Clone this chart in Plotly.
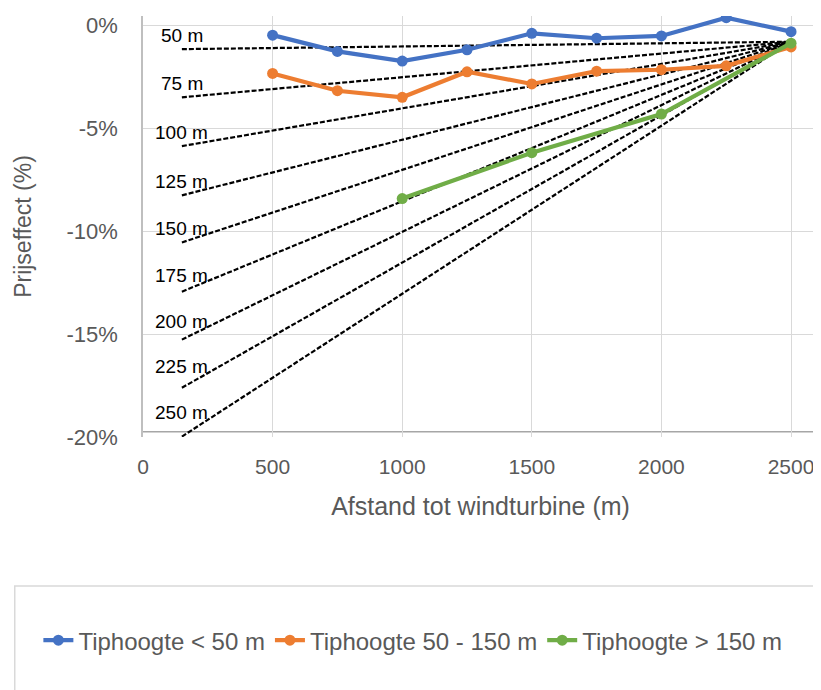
import plotly.graph_objects as go

# ---- data ----
distance = [500, 750, 1000, 1250, 1500, 1750, 2000, 2250, 2500]
tip_lt50 = [-0.48, -1.27, -1.74, -1.19, -0.39, -0.63, -0.52, 0.37, -0.31]
tip_50_150 = [-2.34, -3.18, -3.50, -2.26, -2.85, -2.23, -2.16, -1.97, -1.05]
distance_gt150 = [1000, 1500, 2000, 2500]
tip_gt150 = [-8.42, -6.19, -4.31, -0.87]

ref_labels = ["50 m", "75 m", "100 m", "125 m", "150 m", "175 m", "200 m", "225 m", "250 m"]
ref_start_x = 150
ref_end_x = 2500
ref_start_y = [-1.16, -3.50, -5.87, -8.26, -10.55, -12.94, -15.27, -17.61, -19.98]
ref_end_y = -0.8

x_ticks = [0, 500, 1000, 1500, 2000, 2500]
y_ticks = [0, -5, -10, -15, -20]

FONT = "Liberation Sans"
GRAY_TXT = "#595959"
GRID = "#d9d9d9"

fig = go.Figure()

for lab, y0 in zip(ref_labels, ref_start_y):
    fig.add_trace(go.Scatter(
        x=[ref_start_x, ref_end_x], y=[y0, ref_end_y], mode="lines",
        line=dict(color="black", width=2.2, dash="5px,2px"),
        showlegend=False, hoverinfo="skip",
    ))
    # steeper reference lines get their label lifted a little more
    lift = max(0.0, (abs(ref_end_y - y0) - 10) * 1.1)
    fig.add_annotation(
        x=ref_start_x, y=y0, text=lab, showarrow=False,
        xanchor="center", yanchor="bottom", yshift=1 + lift,
        font=dict(family=FONT, size=19, color="black"),
    )

series = [
    ("Tiphoogte < 50 m", distance, tip_lt50, "#4472C4"),
    ("Tiphoogte 50 - 150 m", distance, tip_50_150, "#ED7D31"),
    ("Tiphoogte > 150 m", distance_gt150, tip_gt150, "#70AD47"),
]
for name, xs, ys, col in series:
    fig.add_trace(go.Scatter(
        x=xs, y=ys, name=name, mode="lines+markers",
        line=dict(color=col, width=4.2),
        marker=dict(color=col, size=11),
    ))

# darker horizontal axis line just above the bottom gridline
fig.add_shape(type="line", xref="paper", x0=0, x1=1, yref="y", y0=-19.75, y1=-19.75,
              line=dict(color="#a6a6a6", width=1.5), layer="below")
# legend frame
fig.add_shape(type="rect", xref="paper", yref="paper",
              x0=-0.19, x1=1.03, y0=-0.66, y1=-0.354,
              line=dict(color=GRID, width=1.5), fillcolor="rgba(0,0,0,0)")

fig.update_layout(
    width=821, height=690,
    margin=dict(l=135, r=11, t=5, b=261),
    paper_bgcolor="white", plot_bgcolor="white",
    font=dict(family=FONT, color=GRAY_TXT),
    showlegend=True,
    legend=dict(orientation="h", x=-0.155, xanchor="left", y=-0.4835, yanchor="middle",
                font=dict(family=FONT, size=24, color=GRAY_TXT),
                bgcolor="rgba(0,0,0,0)", itemwidth=30, traceorder="normal"),
    xaxis=dict(
        range=[0, 2604], tickvals=x_ticks, ticktext=[str(v) for v in x_ticks],
        showgrid=True, gridcolor=GRID, gridwidth=1, zeroline=False,
        showline=False, ticks="", ticklabelstandoff=15,
        tickfont=dict(size=21, color=GRAY_TXT),
        title=dict(text="Afstand tot windturbine (m)", font=dict(size=25, color=GRAY_TXT), standoff=20),
    ),
    yaxis=dict(
        range=[-20, 0.45], tickvals=y_ticks, ticktext=[f"{v}%" for v in y_ticks],
        showgrid=True, gridcolor=GRID, gridwidth=1, zeroline=False,
        showline=True, linecolor="#bfbfbf", linewidth=1.5,
        ticks="", ticklabelstandoff=19,
        tickfont=dict(size=22, color=GRAY_TXT),
        title=dict(text="Prijseffect (%)", font=dict(size=23, color=GRAY_TXT), standoff=28),
    ),
)

fig.write_html("out.html")
